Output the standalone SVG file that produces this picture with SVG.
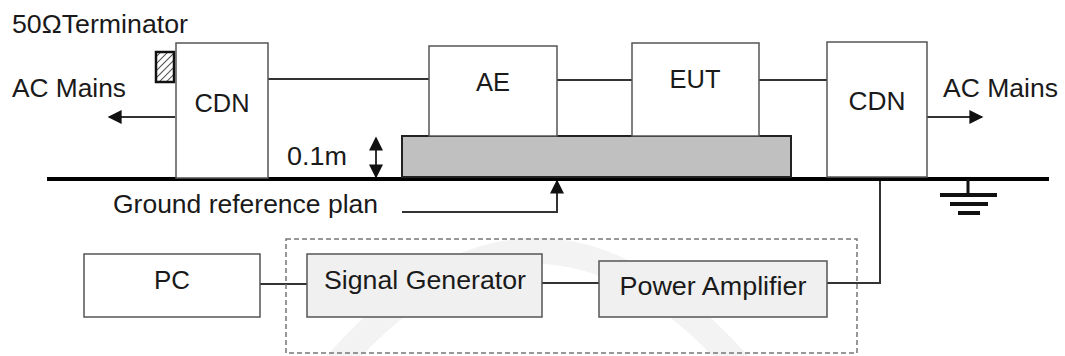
<svg xmlns="http://www.w3.org/2000/svg" width="1065" height="356" viewBox="0 0 1065 356">
<style>
.box{fill:#fff;stroke:#555;stroke-width:1.5}
.gbox{fill:#f0f0f0;stroke:#555;stroke-width:1.5}
.wire{fill:none;stroke:#333;stroke-width:2}
.lbl{font-family:"Liberation Sans",Arial,sans-serif;font-size:25px;fill:#1a1a1a}
.mid{text-anchor:middle}
</style>
<defs>
<marker id="ahb" viewBox="0 0 10 10" refX="9" refY="5" markerWidth="15" markerHeight="14" markerUnits="userSpaceOnUse" orient="auto-start-reverse">
<path d="M0,0 L10,5 L0,10 z" fill="#111"/>
</marker>
<pattern id="hatch" patternUnits="userSpaceOnUse" width="5" height="5" patternTransform="rotate(45)">
<rect width="5" height="5" fill="#fff"/>
<line x1="0" y1="0" x2="0" y2="5" stroke="#555" stroke-width="2"/>
</pattern>
</defs>
<rect width="1065" height="356" fill="#fff"/>
<path d="M330 372 Q535 130 745 372" fill="none" stroke="#f3f3f3" stroke-width="26"/>

<g id="connectors">
<line class="wire" x1="268" y1="79" x2="429" y2="79"/>
<line class="wire" x1="557" y1="80" x2="632" y2="80"/>
<line class="wire" x1="759" y1="80" x2="827" y2="80"/>
<line class="wire" x1="175" y1="117" x2="109" y2="117" marker-end="url(#ahb)"/>
<line class="wire" x1="927" y1="117" x2="982" y2="117" marker-end="url(#ahb)"/>
<line class="wire" x1="376" y1="138" x2="376" y2="177" marker-start="url(#ahb)" marker-end="url(#ahb)"/>
<polyline class="wire" points="402,212 557,212 557,181" marker-end="url(#ahb)"/>
<line class="wire" x1="260" y1="284" x2="307" y2="284"/>
<line class="wire" x1="542" y1="283" x2="599" y2="283"/>
<polyline class="wire" points="827,283 880,283 880,178"/>
</g>

<g id="ground-plane">
<line x1="47" y1="179" x2="1049" y2="179" stroke="#000" stroke-width="4"/>
</g>
<g id="ground-symbol" stroke="#111">
<line x1="968" y1="179" x2="968" y2="194" stroke-width="3"/>
<line x1="940" y1="195" x2="997" y2="195" stroke-width="4"/>
<line x1="950" y1="204" x2="988" y2="204" stroke-width="4"/>
<line x1="958" y1="213" x2="980" y2="213" stroke-width="4"/>
</g>

<g id="platform">
<rect x="402" y="136" width="389" height="41" fill="#c0c0c0" stroke="#222" stroke-width="2"/>
</g>

<g id="terminator">
<rect x="156" y="52" width="18" height="30" fill="url(#hatch)" stroke="#111" stroke-width="2.5"/>
<text class="lbl" x="12" y="33" textLength="176" lengthAdjust="spacingAndGlyphs">50ΩTerminator</text>
</g>

<g id="cdn-left">
<rect class="box" x="176" y="43" width="92" height="135"/>
<text class="lbl mid" x="222" y="112" textLength="55" lengthAdjust="spacingAndGlyphs">CDN</text>
</g>
<g id="ac-mains-left">
<text class="lbl" x="12" y="97" textLength="114" lengthAdjust="spacingAndGlyphs">AC Mains</text>
</g>

<g id="ae">
<rect class="box" x="429" y="46" width="128" height="90"/>
<text class="lbl mid" x="493" y="91" textLength="34" lengthAdjust="spacingAndGlyphs">AE</text>
</g>

<g id="eut">
<rect class="box" x="632" y="43" width="127" height="93"/>
<text class="lbl mid" x="695" y="88" textLength="51" lengthAdjust="spacingAndGlyphs">EUT</text>
</g>

<g id="cdn-right">
<rect class="box" x="827" y="42" width="100" height="135"/>
<text class="lbl mid" x="877" y="110" textLength="57" lengthAdjust="spacingAndGlyphs">CDN</text>
</g>
<g id="ac-mains-right">
<text class="lbl" x="943" y="97" textLength="115" lengthAdjust="spacingAndGlyphs">AC Mains</text>
</g>

<g id="height-label">
<text class="lbl" x="287" y="165" textLength="60" lengthAdjust="spacingAndGlyphs">0.1m</text>
</g>

<g id="ground-label">
<text class="lbl" x="113" y="213" textLength="265" lengthAdjust="spacingAndGlyphs">Ground reference plan</text>
</g>

<g id="dashed-group">
<rect x="286" y="239" width="571" height="114" fill="none" stroke="#777" stroke-width="1.5" stroke-dasharray="5,3"/>
</g>

<g id="pc">
<rect class="box" x="84" y="254" width="176" height="63"/>
<text class="lbl mid" x="172" y="289" textLength="36" lengthAdjust="spacingAndGlyphs">PC</text>
</g>

<g id="signal-generator">
<rect class="gbox" x="307" y="254" width="235" height="63"/>
<text class="lbl mid" x="425" y="289" textLength="202" lengthAdjust="spacingAndGlyphs">Signal Generator</text>
</g>

<g id="power-amplifier">
<rect class="gbox" x="599" y="261" width="228" height="56"/>
<text class="lbl mid" x="713" y="295" textLength="187" lengthAdjust="spacingAndGlyphs">Power Amplifier</text>
</g>
</svg>
